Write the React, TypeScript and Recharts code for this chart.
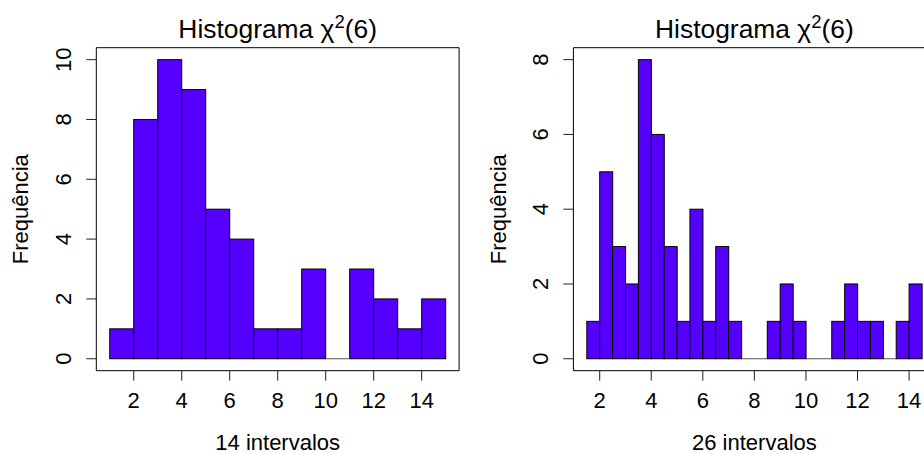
import { BarChart, Bar, XAxis, YAxis, ReferenceArea, ReferenceLine } from 'recharts';

const FONT = '"Liberation Sans", Arial, Helvetica, sans-serif';
const FILL = '#5500FF';

// 14 intervalos (largura 1)
const leftMids = [1.5, 2.5, 3.5, 4.5, 5.5, 6.5, 7.5, 8.5, 9.5, 10.5, 11.5, 12.5, 13.5, 14.5];
const leftCounts = [1, 8, 10, 9, 5, 4, 1, 1, 3, 0, 3, 2, 1, 2];
const leftBinWidth = 1;
const leftXTicks = [2, 4, 6, 8, 10, 12, 14];
const leftYTicks = [0, 2, 4, 6, 8, 10];
const leftXDomain = [0.44, 15.56];
const leftYDomain = [-0.4, 10.4];

// 26 intervalos (largura 0.5)
const rightMids = [
  1.75, 2.25, 2.75, 3.25, 3.75, 4.25, 4.75, 5.25, 5.75, 6.25, 6.75, 7.25, 7.75,
  8.25, 8.75, 9.25, 9.75, 10.25, 10.75, 11.25, 11.75, 12.25, 12.75, 13.25, 13.75, 14.25
];
const rightCounts = [1, 5, 3, 2, 8, 6, 3, 1, 4, 1, 3, 1, 0, 0, 1, 2, 1, 0, 0, 1, 2, 1, 1, 0, 1, 2];
const rightBinWidth = 0.5;
const rightXTicks = [2, 4, 6, 8, 10, 12, 14];
const rightYTicks = [0, 2, 4, 6, 8];
const rightXDomain = [0.98, 15.02];
const rightYDomain = [-0.32, 8.32];

const PLOT_TOP = 47.7;
const PLOT_BOTTOM = 370.7;
const HEIGHT = 454;

const HistBar = (props: any) => {
  const { x, y, width, height } = props;
  if (!height) return null;
  return <rect x={x} y={y} width={width} height={height} fill={FILL} stroke="#000" strokeWidth={1} />;
};

const YTick = (props: any) => {
  const { x, y, payload } = props;
  return (
    <text
      x={x}
      y={y}
      transform={`rotate(-90 ${x} ${y})`}
      textAnchor="middle"
      fontSize={22}
      fontFamily={FONT}
      fill="#000"
    >
      {payload.value}
    </text>
  );
};

type PanelProps = {
  mids: number[];
  counts: number[];
  binWidth: number;
  xDomain: number[];
  yDomain: number[];
  xTicks: number[];
  yTicks: number[];
  left: number;
  width: number;
  plotLeft: number;
  plotRight: number;
};

function HistPanel({ mids, counts, binWidth, xDomain, yDomain, xTicks, yTicks, left, width, plotLeft, plotRight }: PanelProps) {
  const data = mids.map((m, i) => ({ mid: m, count: counts[i] }));
  // classes vazias: o R desenha so um traco no zero
  const empty = data.filter(d => d.count === 0);

  return (
    <div style={{ position: 'absolute', left, top: 0 }}>
      <BarChart
        width={width}
        height={HEIGHT}
        data={data}
        margin={{ top: PLOT_TOP, right: width - plotRight, bottom: 0, left: 0 }}
        barCategoryGap={0}
        barGap={0}
      >
        <XAxis
          type="number"
          dataKey="mid"
          domain={xDomain}
          ticks={xTicks}
          interval={0}
          allowDataOverflow
          axisLine={false}
          tickLine={{ stroke: '#222' }}
          tickSize={10}
          tickMargin={12}
          height={HEIGHT - PLOT_BOTTOM}
          tick={{ fill: '#000', fontSize: 22, fontFamily: FONT }}
        />
        <YAxis
          type="number"
          domain={yDomain}
          ticks={yTicks}
          interval={0}
          allowDataOverflow
          width={plotLeft}
          axisLine={false}
          tickLine={{ stroke: '#222' }}
          tickSize={10}
          tickMargin={15}
          tick={<YTick />}
        />
        <Bar dataKey="count" shape={HistBar} isAnimationActive={false} />
        {empty.map(d => (
          <ReferenceLine
            key={d.mid}
            segment={[
              { x: d.mid - binWidth / 2, y: 0 },
              { x: d.mid + binWidth / 2, y: 0 }
            ]}
            stroke="#555"
            strokeWidth={1}
            ifOverflow="visible"
          />
        ))}
        <ReferenceArea
          x1={xDomain[0]}
          x2={xDomain[1]}
          y1={yDomain[0]}
          y2={yDomain[1]}
          fill="none"
          stroke="#000"
          strokeWidth={1}
          ifOverflow="visible"
        />
      </BarChart>
    </div>
  );
}

const Title = ({ cx }: { cx: number }) => (
  <text x={cx} y={38.3} textAnchor="middle" fontSize={26.4} fontFamily={FONT} fill="#000">
    Histograma χ
    <tspan fontSize={18.5} dy={-10}>2</tspan>
    <tspan dy={10}>(6)</tspan>
  </text>
);

export default function App() {
  return (
    <div style={{ position: 'absolute', left: 0, top: 0, width: 924, height: HEIGHT, overflow: 'hidden', background: '#fff' }}>
      <HistPanel
        mids={leftMids}
        counts={leftCounts}
        binWidth={leftBinWidth}
        xDomain={leftXDomain}
        yDomain={leftYDomain}
        xTicks={leftXTicks}
        yTicks={leftYTicks}
        left={0}
        width={462}
        plotLeft={96.3}
        plotRight={459.1}
      />
      <HistPanel
        mids={rightMids}
        counts={rightCounts}
        binWidth={rightBinWidth}
        xDomain={rightXDomain}
        yDomain={rightYDomain}
        xTicks={rightXTicks}
        yTicks={rightYTicks}
        left={462}
        width={480}
        plotLeft={111.4}
        plotRight={473.4}
      />
      <svg width={924} height={HEIGHT} style={{ position: 'absolute', left: 0, top: 0, pointerEvents: 'none' }}>
        <Title cx={277.7} />
        <Title cx={754.4} />
        <text x={277.7} y={449.5} textAnchor="middle" fontSize={22} fontFamily={FONT} fill="#000">14 intervalos</text>
        <text x={754.4} y={449.5} textAnchor="middle" fontSize={22} fontFamily={FONT} fill="#000">26 intervalos</text>
        <text x={28.5} y={209.2} transform="rotate(-90 28.5 209.2)" textAnchor="middle" fontSize={22} fontFamily={FONT} fill="#000">Frequência</text>
        <text x={505.8} y={209.2} transform="rotate(-90 505.8 209.2)" textAnchor="middle" fontSize={22} fontFamily={FONT} fill="#000">Frequência</text>
      </svg>
    </div>
  );
}
